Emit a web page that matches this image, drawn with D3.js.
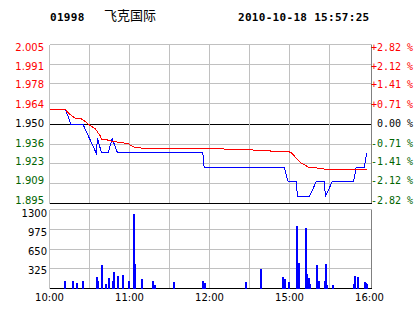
<!DOCTYPE html>
<html>
<head>
<meta charset="utf-8">
<script src="https://cdn.jsdelivr.net/npm/d3@7"></script>
<style>
body { margin: 0; background: #fff; }
svg { display: block; }
</style>
</head>
<body>
<svg id="chart" width="414" height="314"></svg>
<script>
//Header info
var stockCode = "01998";
var stockName = "飞克国际";
var stockTime = "2010-10-18 15:57:25";

//Previous close, the price axis is centred on it
var prevClose = 1.95;
var priceTicks = [2.005, 1.991, 1.978, 1.964, 1.950, 1.936, 1.923, 1.909, 1.895];
var pctTicks = ["+2.82 %", "+2.12 %", "+1.41 %", "+0.71 %", " 0.00 %", "-0.71 %", "-1.41 %", "-2.12 %", "-2.82 %"];
var volTicks = [1300, 975, 650, 325];
var timeTicks = [0, 60, 120, 180, 240];
var timeLabels = ["10:00", "11:00", "12:00", "15:00", "16:00"];

//All times are minutes after 10:00, lunch break cut out (12:30 -> 150 -> 14:30)
var priceMinutes = [0, 12, 16, 25, 35, 36, 39, 44, 47, 51, 115, 116, 176, 179, 185, 186, 195, 200, 206, 207, 212, 228, 230, 236, 238];
var prices = [1.96, 1.96, 1.95, 1.95, 1.93, 1.94, 1.93, 1.93, 1.94, 1.93, 1.93, 1.92, 1.92, 1.91, 1.91, 1.90, 1.90, 1.91, 1.91, 1.90, 1.91, 1.91, 1.92, 1.92, 1.93];

var avgMinutes = [0, 12, 14, 15, 19, 24, 26, 29, 31, 34, 36, 38, 39, 43, 44, 49, 53, 59, 61, 64, 68, 81, 130, 131, 152, 153, 165, 166, 179, 182, 184, 187, 189, 192, 194, 201, 207, 238];
var avgPrices = [1.960, 1.960, 1.9578, 1.9569, 1.9542, 1.9535, 1.9523, 1.9500, 1.9486, 1.9470, 1.9445, 1.9419, 1.9396, 1.9394, 1.9385, 1.9378, 1.9371, 1.9366, 1.9352, 1.9339, 1.9334, 1.9332, 1.9332, 1.9325, 1.9325, 1.9318, 1.9318, 1.9311, 1.9311, 1.9297, 1.9274, 1.9246, 1.9228, 1.9214, 1.9202, 1.9195, 1.9187, 1.9187];

var volMinutes = [11, 17, 20, 25, 35, 36, 39, 42, 44, 47, 48, 51, 55, 59, 63, 64, 69, 77, 79, 93, 115, 116, 147, 158, 175, 176, 179, 185, 186, 187, 192, 193, 194, 195, 200, 201, 202, 206, 207, 208, 212, 228, 229, 231, 236, 237, 238];
var volumes = [120, 120, 87, 120, 186, 120, 383, 70, 170, 120, 268, 203, 219, 120, 1223, 400, 153, 120, 54, 104, 120, 87, 104, 318, 186, 153, 104, 1025, 170, 416, 992, 235, 170, 70, 383, 120, 120, 120, 400, 54, 54, 70, 203, 186, 104, 87, 70];

var green = "#006400";
var grid = "#c0c0c0";
var left = 49.5, right = 371.5;
var priceTop = 44.5, priceBottom = 203.5;
var volTop = 209.5, volBottom = 288.5;

var svg = d3.select("#chart");

var x = d3.scaleLinear().domain([0, 240]).range([left, 369.5]);
var yPrice = d3.scaleLinear().domain([1.895, 2.005]).range([priceBottom, priceTop]);
var yVol = d3.scaleLinear().domain([0, 1300]).range([volBottom, volTop]);
//labels sit a little inside the grid rows in the original
var yPriceLabel = d3.scaleLinear().domain([1.895, 2.005]).range([200.3, 47]);
var yVolLabel = d3.scaleLinear().domain([0, 1300]).range([289.7, 213.7]);

//snaps a coordinate onto a pixel row so 1px lines stay sharp
function crisp(v) {
    return Math.round(v - 0.5) + 0.5;
}

function priceColor(v) {
    if (Math.abs(v - prevClose) < 0.0005) return "#000";
    return v > prevClose ? "#ff0000" : green;
}

//header
var head = svg.append("g").attr("font-family", "'DejaVu Sans Mono', monospace")
    .attr("font-weight", "bold").attr("font-size", "11px").attr("letter-spacing", "0.3px");
head.append("text").attr("x", 50).attr("y", 21).text(stockCode);
head.append("text").attr("x", 238).attr("y", 21).text(stockTime);
svg.append("text").attr("x", 104).attr("y", 20).attr("font-family", "'Noto Sans CJK SC', sans-serif")
    .attr("font-size", "13px").text(stockName);

//grid of both panels
var g = svg.append("g").attr("shape-rendering", "crispEdges").attr("stroke-width", 1);
var vMinutes = d3.range(30, 240, 30);

g.selectAll(".hgrid").data(priceTicks.slice(0, priceTicks.length - 1)).enter().append("line")
    .attr("x1", left).attr("x2", right)
    .attr("y1", d => crisp(yPrice(d))).attr("y2", d => crisp(yPrice(d)))
    .attr("stroke", d => Math.abs(d - prevClose) < 0.0005 ? "#000" : grid);
g.selectAll(".vgrid").data(vMinutes).enter().append("line")
    .attr("x1", d => crisp(x(d))).attr("x2", d => crisp(x(d)))
    .attr("y1", priceTop).attr("y2", priceBottom).attr("stroke", grid);
g.selectAll(".vhgrid").data(volTicks).enter().append("line")
    .attr("x1", left).attr("x2", right)
    .attr("y1", d => crisp(yVol(d))).attr("y2", d => crisp(yVol(d))).attr("stroke", grid);
g.selectAll(".vvgrid").data(vMinutes).enter().append("line")
    .attr("x1", d => crisp(x(d))).attr("x2", d => crisp(x(d)))
    .attr("y1", volTop).attr("y2", volBottom).attr("stroke", grid);

//left + right borders
[[priceTop, priceBottom], [volTop, volBottom]].forEach(function(p) {
    g.append("line").attr("x1", left).attr("x2", left).attr("y1", p[0]).attr("y2", p[1]).attr("stroke", grid);
    g.append("line").attr("x1", right).attr("x2", right).attr("y1", p[0]).attr("y2", p[1]).attr("stroke", "#808080");
});

//volume bars
svg.append("g").attr("shape-rendering", "crispEdges").selectAll("rect")
    .data(volMinutes).enter().append("rect")
    .attr("x", d => Math.floor(x(d)))
    .attr("y", (d, i) => yVol(volumes[i]))
    .attr("width", 2)
    .attr("height", (d, i) => volBottom - yVol(volumes[i]))
    .attr("fill", "#0000ff");

//bottom lines of the panels
g.append("line").attr("x1", left).attr("x2", right).attr("y1", priceBottom).attr("y2", priceBottom).attr("stroke", "#000");
g.append("line").attr("x1", left).attr("x2", right).attr("y1", volBottom).attr("y2", volBottom).attr("stroke", "#000");

//price and average lines
var priceLine = d3.line().x(d => x(d[0])).y(d => yPrice(d[1]));
svg.append("path").datum(d3.zip(priceMinutes, prices))
    .attr("d", priceLine).attr("fill", "none").attr("stroke", "#0000ff")
    .attr("stroke-width", 1).attr("shape-rendering", "crispEdges");
svg.append("path").datum(d3.zip(avgMinutes, avgPrices))
    .attr("d", priceLine).attr("fill", "none").attr("stroke", "#ff0000")
    .attr("stroke-width", 1).attr("shape-rendering", "crispEdges");

//axis labels
svg.append("g").attr("font-family", "'DejaVu Sans', sans-serif").attr("font-size", "10px")
    .attr("text-anchor", "end")
    .selectAll("text").data(priceTicks).enter().append("text")
    .attr("x", 44).attr("y", d => yPriceLabel(d)).attr("dy", "0.36em")
    .attr("fill", priceColor).text(d => d.toFixed(3));

//non-breaking spaces keep the monospace columns lined up
svg.append("g").attr("font-family", "'DejaVu Sans Mono', monospace").attr("font-size", "10px")
    .selectAll("text").data(pctTicks).enter().append("text")
    .attr("x", 371).attr("y", (d, i) => yPriceLabel(priceTicks[i])).attr("dy", "0.36em")
    .attr("fill", (d, i) => priceColor(priceTicks[i])).text(d => d.replace(/ /g, "\u00a0"));

svg.append("g").attr("font-family", "'DejaVu Sans', sans-serif").attr("font-size", "10px")
    .attr("text-anchor", "end")
    .selectAll("text").data(volTicks).enter().append("text")
    .attr("x", 47).attr("y", d => yVolLabel(d)).attr("dy", "0.36em").text(d => d);

svg.append("g").attr("font-family", "'DejaVu Sans', sans-serif").attr("font-size", "10px")
    .attr("text-anchor", "middle")
    .selectAll("text").data(timeTicks).enter().append("text")
    .attr("x", d => x(d)).attr("y", 301).text((d, i) => timeLabels[i]);
</script>
</body>
</html>
